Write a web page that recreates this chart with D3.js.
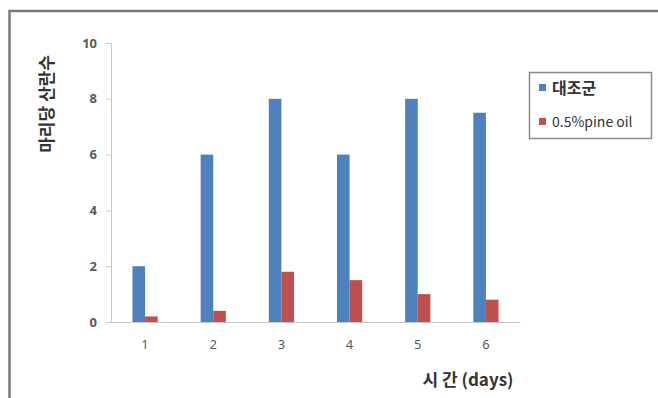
<!DOCTYPE html>
<html>
<head>
<meta charset="utf-8">
<script src="https://cdn.jsdelivr.net/npm/d3@7/dist/d3.min.js"></script>
<style>
  html, body { margin: 0; padding: 0; background: #fff; }
  svg { display: block; }
  text { font-family: "Noto Sans CJK KR", "Noto Sans", sans-serif; }
</style>
</head>
<body>
<svg id="chart" width="658" height="398"></svg>
<script>
// Days of observation
const days = ["1", "2", "3", "4", "5", "6"];
// Series names
const seriesNames = ["대조군", "0.5%pine oil"];
// Eggs laid per individual
const controlValues = [2, 6, 8, 6, 8, 7.5];
const pineOilValues = [0.2, 0.4, 1.8, 1.5, 1.0, 0.8];
// Y axis ticks
const yTicks = [0, 2, 4, 6, 8, 10];

const colors = ["#4F81BD", "#C0504D"];
const seriesValues = [controlValues, pineOilValues];

const svg = d3.select("#chart");

// Outer frame
svg.append("rect")
  .attr("x", 9.5).attr("y", 11)
  .attr("width", 700).attr("height", 500)
  .attr("fill", "none")
  .attr("stroke", "#7a7a7a")
  .attr("stroke-width", 2.5);

const plot = { left: 111, right: 520, top: 43, bottom: 322 };

const x0 = d3.scaleBand()
  .domain(days)
  .range([plot.left, plot.right])
  .paddingInner(0.63)
  .paddingOuter(0.315);

const x1 = d3.scaleBand()
  .domain(seriesNames)
  .range([0, x0.bandwidth()]);

const y = d3.scaleLinear()
  .domain([0, 10])
  .range([plot.bottom, plot.top]);

// Bars
const rows = days.map((d, i) => ({
  day: d,
  vals: seriesNames.map((s, j) => ({ name: s, value: seriesValues[j][i], color: colors[j] }))
}));

const groups = svg.append("g").selectAll("g")
  .data(rows).join("g")
  .attr("transform", d => `translate(${x0(d.day)},0)`);

groups.selectAll("rect")
  .data(d => d.vals).join("rect")
  .attr("x", d => x1(d.name))
  .attr("y", d => y(d.value))
  .attr("width", x1.bandwidth())
  .attr("height", d => y(0) - y(d.value))
  .attr("fill", d => d.color);

// Y axis
const yAxis = svg.append("g")
  .attr("transform", `translate(${plot.left},0)`)
  .call(d3.axisLeft(y).tickValues(yTicks).tickSize(5).tickPadding(9).tickFormat(d3.format("d")));
yAxis.select(".domain").attr("stroke", "#c8c8c8");
yAxis.selectAll(".tick line").attr("stroke", "#c8c8c8");
yAxis.selectAll(".tick text")
  .attr("fill", "#595959")
  .attr("font-size", 13)
  .attr("font-weight", "bold")
  .style("font-family", "'Noto Sans', sans-serif");

// X axis
const xAxis = svg.append("g")
  .attr("transform", `translate(0,${plot.bottom})`)
  .call(d3.axisBottom(x0).tickSize(0).tickPadding(18));
xAxis.select(".domain").attr("stroke", "#c8c8c8");
xAxis.selectAll(".tick text")
  .attr("fill", "#595959")
  .attr("font-size", 13)
  .style("font-family", "'Noto Sans', sans-serif");

// Axis titles
svg.append("text")
  .attr("transform", "translate(53,104) rotate(-90)")
  .attr("text-anchor", "middle")
  .attr("font-size", 17)
  .attr("font-weight", "bold")
  .attr("fill", "#333")
  .text("마리당 산란수");

svg.append("text")
  .attr("x", 468).attr("y", 386)
  .attr("text-anchor", "middle")
  .attr("font-size", 17)
  .attr("font-weight", "bold")
  .attr("fill", "#333")
  .text("시 간 (days)");

// Legend
const legend = svg.append("g");
legend.append("rect")
  .attr("x", 529.5).attr("y", 72.5)
  .attr("width", 122).attr("height", 66)
  .attr("fill", "#fff")
  .attr("stroke", "#8a8a8a")
  .attr("stroke-width", 1.5);

const legendY = [88, 122];
const legendSize = [16, 14];
seriesNames.forEach((s, i) => {
  legend.append("rect")
    .attr("x", 539).attr("y", legendY[i] - 4)
    .attr("width", 7).attr("height", 7)
    .attr("fill", colors[i]);
  legend.append("text")
    .attr("x", 552).attr("y", legendY[i])
    .attr("dy", "0.36em")
    .attr("font-size", legendSize[i])
    .attr("font-weight", i === 0 ? "bold" : "normal")
    .attr("fill", "#333")
    .text(s);
});
</script>
</body>
</html>
